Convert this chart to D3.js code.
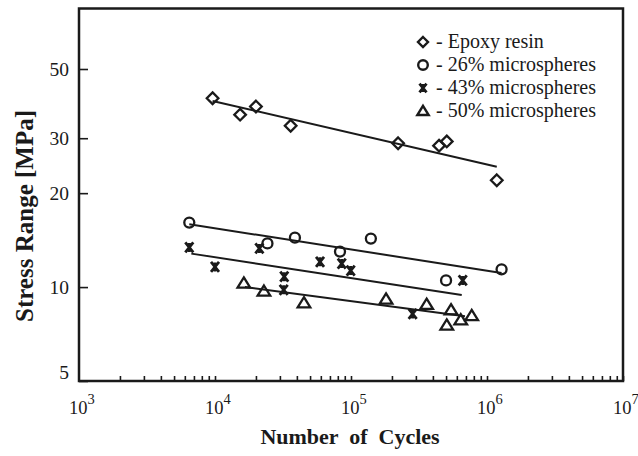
<!DOCTYPE html>
<html><head><meta charset="utf-8">
<script src="https://cdn.jsdelivr.net/npm/d3@7"></script>
<style>
html,body{margin:0;padding:0;background:#fff;}
text{font-family:"Liberation Serif","Times New Roman",serif;fill:#1a1a1a;}
</style></head>
<body><svg id="chart" width="638" height="456"></svg>
<script>
// ---- data ----
const seriesNames = ["- Epoxy resin", "- 26% microspheres", "- 43% microspheres", "- 50% microspheres"];
const epoxyN = [9600, 15300, 20000, 36000, 222000, 444000, 506000, 1180000];
const epoxyS = [40.3, 35.7, 37.9, 32.9, 28.9, 28.4, 29.3, 22.0];
const ms26N = [6470, 24300, 38700, 83000, 140000, 500000, 1280000];
const ms26S = [16.1, 13.8, 14.4, 13.0, 14.3, 10.5, 11.4];
const ms43N = [6470, 10000, 21200, 32300, 32000, 59200, 85500, 99500, 284000, 663000];
const ms43S = [13.4, 11.6, 13.3, 10.8, 9.8, 12.05, 11.9, 11.3, 8.2, 10.5];
const ms50N = [16300, 22900, 45100, 181000, 360000, 544000, 506000, 641000, 772000];
const ms50S = [10.3, 9.7, 8.9, 9.15, 8.8, 8.45, 7.55, 7.85, 8.1];
// fitted trend lines: [N, S] end points
const epoxyFit = [[9600, 39.5], [1180000, 24.3]];
const ms26Fit = [[6470, 15.9], [1280000, 11.1]];
const ms43Fit = [[6700, 12.8], [652000, 9.43]];
const ms50Fit = [[16600, 10.0], [689000, 8.07]];
const yTicks = [5, 10, 20, 30, 50];
const xDecades = [1e3, 1e4, 1e5, 1e6, 1e7];
const xLabel = "Number  of  Cycles";
const yLabel = "Stress Range [MPa]";

// ---- layout ----
const svg = d3.select("#chart");
const L = 79, R = 623, T = 8.5, B = 381;
const x = d3.scaleLog().domain([1e3, 1e7]).range([L, R]);
const yMax = 5 * Math.pow(10, (B - T) / 312);
const y = d3.scaleLog().domain([5, yMax]).range([B, T]);
const ink = "#1a1a1a";

// markers
const markerPath = {
  diamond: s => `M0,${-s}L${s},0L0,${s}L${-s},0Z`,
  circle: s => `M${s},0A${s},${s} 0 1,1 ${-s},0A${s},${s} 0 1,1 ${s},0Z`,
  triangle: s => `M0,${-s*0.95}L${s*1.05},${s*0.75}L${-s*1.05},${s*0.75}Z`,
  star: s => `M${-s*0.8},${-s}L${s*0.8},${s}M${s*0.8},${-s}L${-s*0.8},${s}M0,${-s*0.9}L0,${s*0.9}`
};
const series = [
  {n: epoxyN, s: epoxyS, fit: epoxyFit, m: "diamond", size: 5.8},
  {n: ms26N, s: ms26S, fit: ms26Fit, m: "circle", size: 5},
  {n: ms43N, s: ms43S, fit: ms43Fit, m: "star", size: 5},
  {n: ms50N, s: ms50S, fit: ms50Fit, m: "triangle", size: 6}
];

// fit lines
const line = d3.line().x(d => x(d[0])).y(d => y(d[1]));
series.forEach(sr => {
  svg.append("path").attr("d", line(sr.fit)).attr("fill", "none")
    .attr("stroke", ink).attr("stroke-width", 2);
});
// points
series.forEach(sr => {
  svg.append("g").selectAll("path").data(sr.n.map((n, i) => [n, sr.s[i]])).join("path")
    .attr("transform", d => `translate(${x(d[0])},${y(d[1])})`)
    .attr("d", markerPath[sr.m](sr.size))
    .attr("fill", "none").attr("stroke", ink)
    .attr("stroke-width", sr.m === "star" ? 2.8 : 2.3)
    .attr("stroke-linejoin", "miter");
});

// frame
svg.append("rect").attr("x", L).attr("y", T).attr("width", R - L).attr("height", B - T)
  .attr("fill", "none").attr("stroke", ink).attr("stroke-width", 2.5);

// x axis minor ticks (inside), labels at decades
const xTickVals = [];
for (let d = 1e3; d < 1e7; d *= 10) for (let k = 2; k <= 10; k++) xTickVals.push(d * k);
const xAxis = d3.axisTop(x).tickValues(xTickVals).tickSize(5).tickFormat("");
const gx = svg.append("g").attr("transform", `translate(0,${B})`).call(xAxis);
gx.select(".domain").remove();
gx.selectAll("line").attr("stroke", ink).attr("stroke-width", 1.6);
xDecades.forEach(v => {
  const t = svg.append("text").attr("x", x(v) - 10).attr("y", 414)
    .attr("font-size", 18.5);
  t.append("tspan").text("10");
  t.append("tspan").attr("dy", -10).attr("font-size", 14.5)
    .text(String(Math.round(Math.log10(v))));
});

// y axis ticks (inside)
const yAxis = d3.axisRight(y).tickValues(yTicks).tickSize(9).tickFormat("");
const gy = svg.append("g").attr("transform", `translate(${L},0)`).call(yAxis);
gy.select(".domain").remove();
gy.selectAll("line").attr("stroke", ink).attr("stroke-width", 1.6);
yTicks.forEach(v => {
  svg.append("text").attr("x", 69).attr("y", Math.min(y(v), B - 9))
    .attr("text-anchor", "end").attr("dominant-baseline", "central")
    .attr("font-size", 19.5).text(v);
});

// axis titles
svg.append("text").attr("x", 350).attr("y", 444).attr("text-anchor", "middle")
  .attr("font-size", 22).attr("font-weight", "bold").attr("xml:space", "preserve")
  .style("white-space", "pre").text(xLabel);
svg.append("text").attr("transform", "translate(33,216) rotate(-90)")
  .attr("text-anchor", "middle").attr("font-size", 25).attr("font-weight", "bold")
  .text(yLabel);

// legend
const legY0 = 48, legDy = 23;
const legMarks = ["diamond", "circle", "star", "triangle"];
const legSizes = [5, 4.8, 4.4, 5.4];
seriesNames.forEach((name, i) => {
  const by = legY0 + i * legDy;
  svg.append("path").attr("transform", `translate(423,${by - 6})`)
    .attr("d", markerPath[legMarks[i]](legSizes[i]))
    .attr("fill", "none").attr("stroke", ink).attr("stroke-width", legMarks[i] === "star" ? 2.8 : 2.4);
  svg.append("text").attr("x", 436).attr("y", by).attr("font-size", 20).text(name);
});
</script></body></html>
